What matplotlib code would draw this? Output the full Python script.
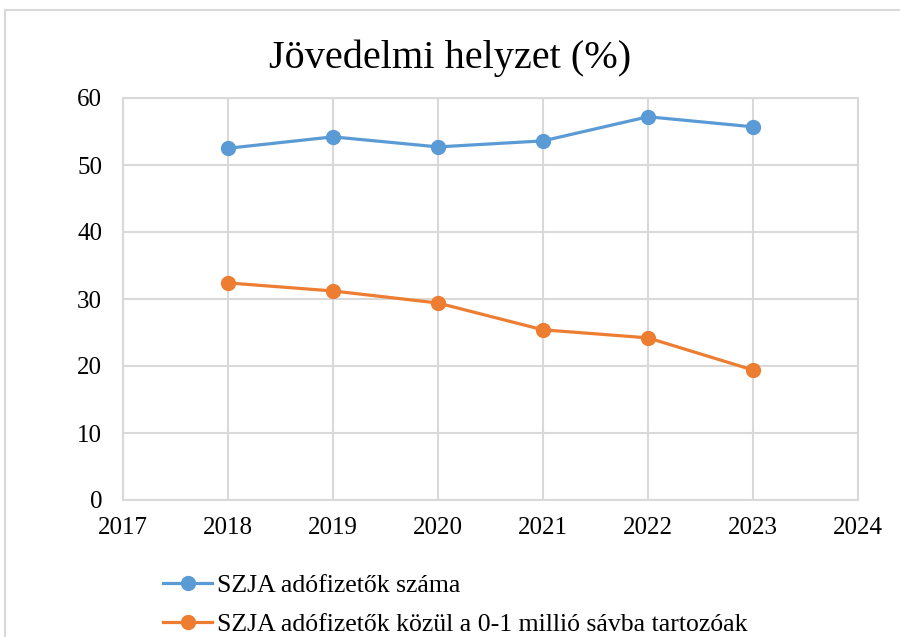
import matplotlib.pyplot as plt
from matplotlib.patches import Rectangle

years = [2018, 2019, 2020, 2021, 2022, 2023]
szja_total = [52.5, 54.2, 52.7, 53.6, 57.2, 55.7]
szja_low = [32.4, 31.2, 29.4, 25.4, 24.2, 19.4]
labels = ["SZJA adófizetők száma",
          "SZJA adófizetők közül a 0-1 millió sávba tartozóak"]
title = "Jövedelmi helyzet (%)"

plt.rcParams['font.family'] = ['Liberation Serif', 'DejaVu Serif']

fig = plt.figure(figsize=(9, 6.37), dpi=100)
# outer chart border
fig.patches.append(Rectangle((5 / 900, -0.05), 1.0, 1 - 10 / 637 + 0.05,
                             transform=fig.transFigure, fill=False,
                             edgecolor='#d9d9d9', linewidth=1.5))

ax = fig.add_axes([123 / 900, 1 - 500 / 637, 735 / 900, 402 / 637])

ax.plot(years, szja_total, color='#5B9BD5', lw=2.3, marker='o', ms=10,
        label=labels[0])
ax.plot(years, szja_low, color='#ED7D31', lw=2.3, marker='o', ms=10,
        label=labels[1])

ax.set_xlim(2017, 2024)
ax.set_ylim(0, 60)
ax.set_xticks(range(2017, 2025))
ax.set_yticks(range(0, 61, 10))
ax.grid(True, color='#d9d9d9', lw=1.5)
ax.set_axisbelow(True)
for s in ax.spines.values():
    s.set_color('#d9d9d9')
    s.set_linewidth(1.5)
ax.tick_params(length=0, labelsize=18)
ax.tick_params(axis='y', pad=15)
ax.tick_params(axis='x', pad=12)

fig.text(0.5, 1 - 58 / 637, title, ha='center', va='center', fontsize=29)

fig.legend(loc='upper left', bbox_to_anchor=(153 / 900, 1 - 564 / 637),
           frameon=False, fontsize=18.5, handlelength=1.9,
           handletextpad=0.2, labelspacing=0.6, borderaxespad=0)

fig.savefig('out.png', dpi=100)
